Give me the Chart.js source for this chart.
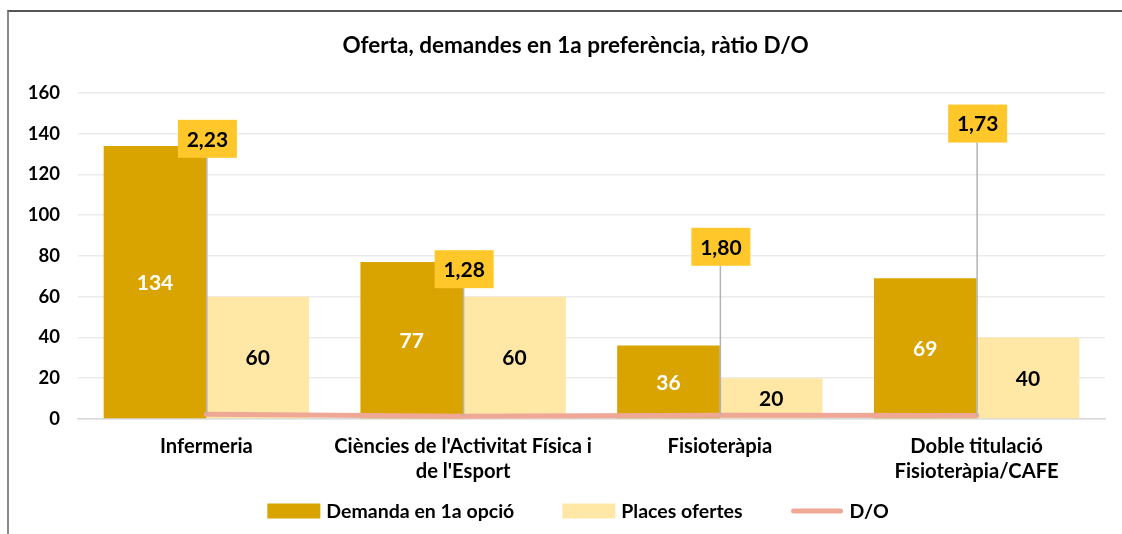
<!DOCTYPE html>
<html>
<head>
<meta charset="utf-8">
<script src="https://cdn.jsdelivr.net/npm/chart.js@4.4.1/dist/chart.umd.min.js"></script>
<style>
  html, body { margin: 0; padding: 0; background: #fff; }
  #wrap { position: relative; width: 1122px; height: 534px; overflow: hidden; }
  #frame { position: absolute; left: 7px; top: 10px; width: 1130px; height: 540px;
           border-top: 2px solid #555; border-left: 2px solid #8a8a8a; box-sizing: border-box; }
  canvas { position: absolute; left: 0; top: 0; }
</style>
</head>
<body>
<div id="wrap">
  <div id="frame"></div>
  <canvas id="c" width="1122" height="534"></canvas>
</div>
<script>
const categories = [
  'Infermeria',
  ["Ciències de l'Activitat Física i", "de l'Esport"],
  'Fisioteràpia',
  ['Doble titulació', 'Fisioteràpia/CAFE']
];
const demanda = [134, 77, 36, 69];
const places = [60, 60, 20, 40];
const ratioDO = [2.23, 1.28, 1.80, 1.73];
const yTicks = [0, 20, 40, 60, 80, 100, 120, 140, 160];
const chartTitle = 'Oferta, demandes en 1a preferència, ràtio D/O';

const FONT = 'Lato, "Open Sans", sans-serif';
const fmtComma = v => v.toFixed(2).replace('.', ',');

// style: vertical centre of each D/O label box, in axis units
const ratioBoxCentre = [137.5, 73.5, 84.5, 145];

const COL_DEM = '#DAA400', COL_PLA = '#FFE7A6', COL_DO = '#EFA896';

const labelsPlugin = {
  id: 'labelsPlugin',
  afterDatasetsDraw(chart) {
    const ctx = chart.ctx;
    const yScale = chart.scales.y;
    ctx.save();
    ctx.textAlign = 'center';
    ctx.textBaseline = 'middle';
    [0, 1].forEach(di => {
      const meta = chart.getDatasetMeta(di);
      meta.data.forEach((bar, i) => {
        const v = chart.data.datasets[di].data[i];
        const cy = (bar.y + bar.base) / 2;
        ctx.font = 'bold 21px ' + FONT;
        ctx.fillStyle = di === 0 ? '#ffffff' : '#000000';
        ctx.fillText(String(v), bar.x, cy + 1);
      });
    });
    const lmeta = chart.getDatasetMeta(2);
    lmeta.data.forEach((pt, i) => {
      const by = yScale.getPixelForValue(ratioBoxCentre[i]);
      const bw = 59, bh = 38;
      const bx = pt.x + 1;
      ctx.strokeStyle = '#b3b3b3';
      ctx.lineWidth = 1.5;
      ctx.beginPath();
      ctx.moveTo(pt.x + 0.5, by + bh / 2);
      ctx.lineTo(pt.x + 0.5, pt.y);
      ctx.stroke();
      ctx.fillStyle = '#FFC72A';
      ctx.fillRect(bx - bw / 2, by - bh / 2, bw, bh);
      ctx.fillStyle = '#000';
      ctx.font = 'bold 21px ' + FONT;
      ctx.fillText(fmtComma(ratioDO[i]), bx, by + 1);
    });
    ctx.restore();
  },
  afterDraw(chart) {
    const ctx = chart.ctx;
    ctx.save();
    ctx.fillStyle = '#000';
    ctx.textAlign = 'center';
    ctx.textBaseline = 'middle';
    ctx.font = 'bold 22.5px ' + FONT;
    ctx.fillText(chartTitle, 575.5, 46);
    ctx.font = 'bold 19.5px ' + FONT;
    ctx.textAlign = 'left';
    const ds = chart.data.datasets;
    const mk = 53, gap = 6, sep = 48;
    const widths = ds.map(d => mk + gap + ctx.measureText(d.label).width);
    const total = widths.reduce((a, b) => a + b, 0) + sep * (ds.length - 1);
    let x = 578 - total / 2;
    const cy = 511;
    ds.forEach((d, i) => {
      if (d.type === 'line') {
        ctx.strokeStyle = d.borderColor;
        ctx.lineWidth = 5;
        ctx.lineCap = 'round';
        ctx.beginPath();
        ctx.moveTo(x + 3, cy);
        ctx.lineTo(x + mk - 3, cy);
        ctx.stroke();
      } else {
        ctx.fillStyle = d.backgroundColor;
        ctx.fillRect(x, cy - 7.5, mk, 15);
      }
      ctx.fillStyle = '#000';
      ctx.fillText(d.label, x + mk + gap, cy + 1);
      x += widths[i] + sep;
    });
    ctx.restore();
  }
};

new Chart(document.getElementById('c'), {
  data: {
    labels: categories,
    datasets: [
      { type: 'bar', label: 'Demanda en 1a opció', data: demanda, backgroundColor: COL_DEM,
        categoryPercentage: 0.8, barPercentage: 1.0, order: 1 },
      { type: 'bar', label: 'Places ofertes', data: places, backgroundColor: COL_PLA,
        categoryPercentage: 0.8, barPercentage: 1.0, order: 1 },
      { type: 'line', label: 'D/O', data: ratioDO, borderColor: COL_DO, backgroundColor: COL_DO,
        borderWidth: 5, borderCapStyle: 'round', pointRadius: 0, pointHoverRadius: 0, tension: 0, order: -1 }
    ]
  },
  options: {
    responsive: false,
    animation: false,
    layout: { padding: { left: 10, right: 17, top: 93, bottom: 35 } },
    plugins: {
      title: { display: false },
      legend: { display: false },
      tooltip: { enabled: false }
    },
    scales: {
      x: {
        grid: { display: false, drawTicks: false },
        border: { display: true, color: '#D9D9D9', width: 1.5 },
        ticks: { color: '#000', font: { family: FONT, size: 20.2, weight: 'bold', lineHeight: 1.24 }, padding: 15, maxRotation: 0, autoSkip: false }
      },
      y: {
        min: 0, max: 160,
        afterBuildTicks(scale) { scale.ticks = yTicks.map(v => ({ value: v })); },
        afterFit(scale) { scale.width = 68; },
        grid: { color: '#EBEBEB', lineWidth: 1.5, drawTicks: false },
        border: { display: false },
        ticks: { color: '#000', font: { family: FONT, size: 18.5, weight: 'bold' }, padding: 18 }
      }
    }
  },
  plugins: [labelsPlugin]
});
</script>
</body>
</html>
